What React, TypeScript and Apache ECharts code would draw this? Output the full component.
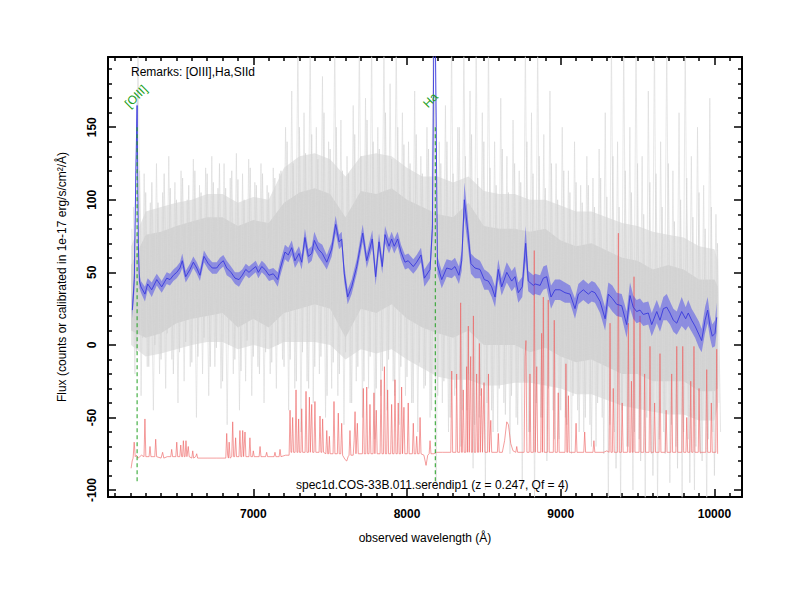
import React, { useEffect, useRef } from "react";
import * as echarts from "echarts";

const FONT = '"Liberation Sans", Arial, Helvetica, sans-serif';

const X_MIN = 6054.7;
const X_MAX = 10179.5;
const Y_MIN = -104.8;
const Y_MAX = 198.4;
const X_TICKS = [7000, 8000, 9000, 10000];
const Y_TICKS = [-100, -50, 0, 50, 100, 150];

// smoothed spectrum (blue) and its error
const BLUE_WAVE = [6213,6226,6236,6244,6252,6259,6269,6295,6313,6339,6372,6404,6437,6458,6480,6502,6523,6538,6560,6588,6610,6632,6653,6679,6707,6733,6762,6783,6805,6827,6855,6881,6907,6928,6951,6972,6993,7016,7033,7055,7076,7102,7130,7159,7174,7206,7228,7250,7271,7297,7315,7336,7358,7380,7397,7423,7449,7478,7510,7536,7558,7575,7592,7614,7640,7673,7712,7738,7774,7796,7818,7839,7857,7883,7900,7917,7939,7961,7987,8008,8041,8063,8091,8113,8150,8165,8174,8182,8190,8198,8226,8258,8291,8312,8338,8356,8373,8395,8416,8442,8475,8503,8529,8551,8573,8594,8616,8649,8681,8703,8724,8750,8772,8789,8822,8833,8866,8887,8909,8937,8963,8995,9028,9061,9093,9115,9147,9180,9202,9223,9256,9289,9310,9336,9364,9397,9429,9451,9472,9494,9516,9537,9570,9592,9625,9646,9668,9690,9711,9733,9755,9787,9813,9830,9852,9874,9900,9917,9939,9956,9971,9986,10004,10015];
const BLUE_FLUX = [24,45,120,165,70,44,40,35,42,38,45,40,46,45,48,50,53,58,47,52,57,53,48,61,56,53,53,56,58,53,50,46,45,48,52,50,52,54,50,54,52,48,49,45,52,64,62,67,58,63,57,74,61,63,72,66,63,57,66,83,71,73,49,33,40,54,77,58,73,47,71,54,76,68,73,68,73,64,57,58,54,57,62,46,52,80,200,240,150,55,45,53,52,54,48,58,100,79,56,53,52,45,44,40,33,52,40,50,44,47,36,40,70,44,41,42,41,46,47,33,38,38,36,35,25,35,38,35,37,36,30,18,35,32,28,27,14,34,26,23,24,21,22,14,23,17,25,26,22,17,15,23,18,22,17,13,7,3,17,24,13,6,8,19];
const BLUE_ERR = [6,8,10,12,8,5,4,5,4,5,4,4,4,4,4,4,4,5,4,4,4,4,4,4,4,4,4,4,4,5,4,4,5,4,4,4,4,4,4,4,4,4,4,5,5,5,5,5,5,5,5,6,5,5,6,5,6,5,5,6,5,5,6,5,5,5,6,5,6,6,6,5,6,5,5,5,5,5,5,5,5,5,5,6,6,8,10,12,10,6,6,6,6,6,6,7,12,10,7,7,6,7,6,7,7,7,6,7,7,7,7,7,12,7,7,7,7,8,8,8,7,7,7,6,7,7,7,7,7,7,8,8,8,9,8,8,9,9,8,8,8,8,8,8,8,8,8,9,8,8,8,10,8,9,8,8,9,8,9,9,8,8,9,10];

// raw spectrum (gray): dense inner and outer envelopes
const GRAY_CORE_WAVE = [6205,6300,6400,6500,6600,6700,6800,6900,7000,7100,7200,7300,7400,7500,7600,7700,7800,7900,8000,8100,8200,8300,8400,8500,8600,8700,8800,8900,9000,9100,9200,9300,9400,9500,9600,9700,9800,9900,10000,10022];
const GRAY_INNER_LO = [10,5,8,15,18,20,22,12,18,12,22,25,28,25,5,25,22,28,18,12,8,5,10,0,0,0,-5,-2,-8,-12,-10,-15,-20,-20,-25,-25,-25,-32,-32,-30];
const GRAY_INNER_HI = [55,76,78,82,85,88,88,82,86,84,98,105,108,104,88,106,104,108,100,95,90,88,98,82,80,80,78,80,72,68,70,65,60,58,52,55,52,45,45,40];
const GRAY_OUTER_LO = [0,-8,-6,-3,0,2,2,-3,0,-3,2,2,2,0,-10,-3,-6,-3,-10,-16,-22,-24,-24,-28,-28,-26,-26,-28,-30,-34,-34,-38,-42,-44,-46,-48,-48,-52,-52,-42];
const GRAY_OUTER_HI = [68,92,95,98,100,104,104,98,102,100,122,130,132,128,116,130,132,130,122,116,116,112,116,106,104,104,100,100,96,92,92,88,84,82,78,76,74,68,66,58];

// raw spectrum (gray): pixel excursions, 40 A sampling
const GRAY_START = 6210;
const GRAY_STEP = 40;
const GRAY_HI = [80,210,118,98,125,105,130,112,120,100,128,110,122,130,108,125,115,132,118,128,112,125,110,122,118,150,175,210,160,210,150,185,140,210,155,130,165,210,170,210,150,210,180,210,160,140,175,130,150,210,140,165,210,150,210,175,210,160,210,140,170,130,155,120,210,160,210,145,175,125,150,120,140,110,130,115,135,160,210,140,210,150,210,130,175,210,140,210,120,160,210,130,150,110,170,90];
const GRAY_LO = [-20,-35,-15,-45,-20,-30,-10,-40,-25,-15,-50,-20,-35,-15,-30,-55,-20,-45,-25,-35,-15,-40,-20,-30,-10,-45,-30,-60,-25,-40,-20,-50,-30,-35,-55,-40,-25,-50,-30,-65,-35,-45,-25,-55,-35,-40,-60,-30,-50,-95,-40,-60,-35,-70,-45,-85,-50,-100,-45,-60,-40,-75,-50,-95,-60,-110,-50,-80,-45,-65,-50,-75,-45,-60,-55,-70,-50,-110,-60,-110,-70,-100,-65,-110,-75,-110,-60,-95,-70,-110,-65,-100,-75,-110,-60,-40];
// second set of excursions, shifted by 10 A
const GRAY_MID_START = 6220;
const GRAY_MID_HI = [95,120,105,112,98,118,108,100,115,110,120,105,118,112,125,108,120,114,100,122,110,118,105,115,120,140,125,150,132,145,128,160,135,150,120,118,145,130,155,140,135,160,128,150,138,125,145,118,135,170,125,140,118,150,130,145,115,140,122,110,135,105,125,112,140,118,130,108,125,100,120,105,112,98,110,95,115,102,130,95,120,105,125,90,112,118,95,125,85,100,115,88,105,80,95,70];
const GRAY_MID_LO = [-5,5,-15,0,-10,8,-20,-5,2,-12,-8,5,-15,-2,-25,0,-10,-18,3,-8,-20,-5,-12,0,-15,-10,-25,-5,-30,-15,-8,-35,-12,-20,-5,-40,-15,-25,-8,-30,-18,-10,-35,-15,-22,-40,-12,-28,-45,-35,-25,-50,-30,-45,-20,-55,-35,-40,-60,-30,-48,-35,-55,-25,-60,-40,-50,-30,-65,-45,-55,-35,-60,-50,-70,-40,-75,-55,-85,-45,-70,-60,-80,-50,-90,-65,-75,-55,-85,-60,-95,-70,-80,-65,-90,-60];

// sky / noise spectrum (red)
const RED_WAVE = [6205,6212,6218,6225,6232,6240,6250,6262,6272,6289,6295,6301,6322,6328,6334,6359,6365,6371,6400,6410,6418,6440,6463,6469,6475,6496,6502,6508,6522,6528,6534,6540,6545,6551,6556,6562,6568,6572,6577,6583,6600,6606,6612,6625,6632,6638,6700,6760,6821,6827,6833,6838,6843,6849,6860,6866,6872,6879,6885,6891,6907,6913,6919,6925,6931,6937,6941,6946,6952,6972,6978,6984,6995,7000,7006,7038,7044,7050,7080,7087,7093,7135,7141,7147,7168,7174,7180,7210,7233,7239,7245,7250,7256,7262,7272,7278,7284,7290,7295,7300,7310,7315,7321,7337,7343,7349,7359,7365,7371,7375,7380,7386,7395,7401,7407,7428,7434,7440,7446,7451,7457,7472,7478,7484,7490,7495,7500,7519,7525,7531,7547,7553,7559,7569,7575,7581,7597,7608,7617,7623,7629,7635,7650,7656,7662,7668,7672,7677,7683,7710,7716,7722,7732,7738,7744,7753,7759,7765,7779,7785,7791,7795,7800,7806,7825,7831,7837,7847,7853,7859,7868,7874,7880,7894,7900,7906,7916,7922,7928,7937,7943,7949,7959,7965,7971,7975,7980,7986,8002,8008,8014,8035,8041,8047,8057,8063,8069,8079,8085,8091,8110,8124,8135,8144,8150,8156,8175,8190,8230,8260,8285,8291,8297,8318,8323,8329,8343,8349,8355,8360,8366,8372,8382,8388,8393,8395,8399,8405,8409,8414,8419,8426,8432,8438,8447,8453,8459,8465,8471,8477,8480,8485,8491,8495,8501,8507,8524,8530,8536,8540,8545,8551,8588,8594,8600,8620,8635,8649,8660,8675,8690,8708,8714,8720,8762,8768,8774,8780,8795,8800,8806,8822,8828,8834,8838,8844,8850,8870,8876,8881,8884,8887,8893,8913,8919,8925,8952,8958,8964,8978,8984,8990,9028,9034,9040,9045,9050,9056,9094,9100,9106,9150,9156,9162,9210,9216,9222,9280,9300,9315,9321,9327,9336,9342,9348,9369,9375,9381,9395,9400,9406,9434,9440,9446,9455,9460,9466,9471,9477,9483,9510,9516,9522,9540,9546,9552,9575,9581,9587,9605,9611,9617,9640,9646,9652,9680,9686,9692,9716,9722,9728,9749,9755,9761,9788,9794,9800,9815,9820,9826,9840,9846,9852,9861,9867,9873,9895,9900,9906,9944,9950,9956,9975,9980,9986,10009,10015,10021];
const RED_FLUX = [-85,-80,-78,-67,-77,-76,-78,-77,-76,-77,-51,-77,-77,-70,-77,-77,-65,-77,-78,-74,-78,-77,-77,-72,-77,-77,-67,-77,-77,-69,-77,-77,-66,-77,-77,-66,-77,-77,-70,-77,-78,-73,-78,-77,-75,-78,-78,-78,-78,-61,-76,-78,-67,-78,-77,-53,-77,-77,-64,-77,-77,-59,-77,-77,-59,-77,-77,-60,-77,-77,-64,-77,-77,-73,-77,-77,-70,-77,-77,-74,-77,-77,-74,-77,-77,-72,-77,-76,-76,-45,-74,-74,-50,-74,-74,-31,-74,-74,-51,-74,-74,-44,-74,-74,-32,-74,-74,-36,-74,-74,-41,-74,-74,-39,-74,-74,-49,-74,-74,-51,-74,-75,-59,-75,-75,-63,-75,-75,-39,-75,-75,-47,-75,-75,-54,-76,-79,-80,-77,-76,-59,-76,-76,-66,-46,-75,-75,-54,-75,-75,-30,-75,-75,-29,-75,-75,-41,-75,-75,-33,-75,-75,-45,-75,-75,-24,-75,-75,-15,-75,-75,-31,-75,-75,-41,-75,-75,-24,-75,-75,-40,-75,-75,-29,-75,-75,-43,-75,-75,-40,-75,-75,-54,-75,-75,-63,-75,-75,-50,-75,-76,-83,-76,-75,-66,-75,-75,-74,-74,-74,-74,-18,-74,-74,-20,-74,-74,29,-74,-74,-31,-74,-74,-15,-74,-74,13,-74,-74,-8,-74,-74,20,-74,-74,-20,-74,-74,1,-74,-74,-30,-74,-74,-26,-74,-74,-20,-74,-74,-52,-74,-74,-61,-74,-74,-66,-53,-55,-68,-73,-74,-70,-74,-74,-8,3,-74,-74,-20,-74,-74,65,-74,-74,-15,-74,-74,8,-74,-74,33,-74,-74,31,-74,-74,17,-74,-74,-33,-74,-74,-13,-74,-74,-35,-74,-74,-54,-74,-74,-60,-74,-74,-66,-74,-74,-73,-74,15,-74,-74,-30,-74,-74,77,-74,-74,-40,-74,-74,15,-74,-74,-25,-74,-74,47,-74,-74,20,-74,-74,-20,-74,-74,-1,-74,-74,-40,-74,-74,-6,-74,-74,-45,-74,-74,-20,-74,-74,-1,-74,-74,-1,-74,-74,-50,-74,-74,-25,-74,-74,-1,-74,-74,-30,-74,-74,-17,-74,-74,-40,-74,-74,-3,-75];

// identified lines
const LINE_WAVE = [6244, 8184];
const LINE_NAME = ["[OIII]", "Ha"];
const LINE_TOP = 150;
const LINE_BOTTOM = -95;
const LINE_LABEL_Y = 162;

const REMARKS = "Remarks: [OIII],Ha,SIId";
const SPEC_TITLE = "spec1d.COS-33B.011.serendip1 (z = 0.247, Qf = 4)";

const GREEN = "#22a022";

function minorTicks(from: number, to: number, step: number, majors: number[]) {
  const out: number[] = [];
  for (let v = from; v <= to + 1e-9; v += step) {
    const r = Math.round(v * 1000) / 1000;
    if (!majors.includes(r)) out.push(r);
  }
  return out;
}

const X_MINOR = minorTicks(6100, 10100, 100, X_TICKS);
const Y_MINOR = minorTicks(-100, 190, 10, Y_TICKS);

function bandSeries(wave: number[], lo: number[], hi: number[], fill: string, z: number) {
  return {
    type: "custom",
    clip: true,
    z,
    silent: true,
    data: [[wave[0], lo[0]]],
    encode: { x: 0, y: 1 },
    renderItem: (_params: any, api: any) => {
      const pts: number[][] = [];
      for (let i = 0; i < wave.length; i++) pts.push(api.coord([wave[i], lo[i]]));
      for (let i = wave.length - 1; i >= 0; i--) pts.push(api.coord([wave[i], hi[i]]));
      return { type: "polygon", shape: { points: pts }, style: { fill, stroke: "none" } };
    },
  };
}

function zigzag(start: number, step: number, hi: number[], lo: number[]) {
  const out: number[][] = [];
  for (let i = 0; i < hi.length; i++) {
    const w = start + i * step;
    out.push([w, hi[i]]);
    out.push([w + step / 2, lo[i]]);
  }
  return out;
}

function xAxisDef(position: "top" | "bottom", ticks: number[], len: number, main: boolean, withLabel: boolean) {
  return {
    type: "value",
    position,
    min: X_MIN,
    max: X_MAX,
    axisLine: { show: main, onZero: false, lineStyle: { color: "#000", width: 2 } },
    axisTick: { show: true, inside: true, length: len, customValues: ticks, lineStyle: { color: "#000", width: 1.5 } },
    axisLabel: withLabel
      ? {
          show: true,
          customValues: ticks,
          formatter: (v: number) => String(v),
          color: "#000",
          fontWeight: "bold",
          fontSize: 12,
          fontFamily: FONT,
          margin: 11,
        }
      : { show: false },
    splitLine: { show: false },
    ...(withLabel
      ? {
          name: "observed wavelength (Å)",
          nameLocation: "middle",
          nameGap: 35,
          nameTextStyle: { color: "#000", fontSize: 12, fontFamily: FONT },
        }
      : {}),
  };
}

function yAxisDef(position: "left" | "right", ticks: number[], len: number, main: boolean, withLabel: boolean) {
  return {
    type: "value",
    position,
    min: Y_MIN,
    max: Y_MAX,
    axisLine: { show: main, onZero: false, lineStyle: { color: "#000", width: 2 } },
    axisTick: { show: true, inside: true, length: len, customValues: ticks, lineStyle: { color: "#000", width: 1.5 } },
    axisLabel: withLabel
      ? {
          show: true,
          customValues: ticks,
          formatter: (v: number) => String(v),
          rotate: 90,
          color: "#000",
          fontWeight: "bold",
          fontSize: 12,
          fontFamily: FONT,
          margin: 10,
        }
      : { show: false },
    splitLine: { show: false },
    ...(withLabel
      ? {
          name: "Flux (counts or calibrated in 1e-17 erg/s/cm²/Å)",
          nameLocation: "middle",
          nameGap: 40,
          nameTextStyle: { color: "#000", fontSize: 12, fontFamily: FONT },
        }
      : {}),
  };
}

export default function App() {
  const ref = useRef<HTMLDivElement>(null);

  useEffect(() => {
    if (!ref.current) return;
    const chart = echarts.init(ref.current, null, { renderer: "svg" });

    const grayZig = zigzag(GRAY_START, GRAY_STEP, GRAY_HI, GRAY_LO);
    const grayMid = zigzag(GRAY_MID_START, GRAY_STEP, GRAY_MID_HI, GRAY_MID_LO);
    const blueLo = BLUE_FLUX.map((v, i) => v - BLUE_ERR[i]);
    const blueHi = BLUE_FLUX.map((v, i) => v + BLUE_ERR[i]);
    const blueLine = BLUE_WAVE.map((w, i) => [w, BLUE_FLUX[i]]);
    const redLine = RED_WAVE.map((w, i) => [w, RED_FLUX[i]]);

    const lineMarks = LINE_WAVE.map((w) => ({
      type: "line",
      z: 6,
      silent: true,
      symbol: "none",
      data: [
        [w, LINE_TOP],
        [w, LINE_BOTTOM],
      ],
      lineStyle: { color: GREEN, type: [4, 3], width: 1 },
    }));

    const option: any = {
      animation: false,
      backgroundColor: "#fff",
      grid: { left: 108, right: 58, top: 57, bottom: 103, containLabel: false },
      xAxis: [
        xAxisDef("bottom", X_TICKS, 8, true, true),
        xAxisDef("bottom", X_MINOR, 4, false, false),
        xAxisDef("top", X_TICKS, 8, true, false),
        xAxisDef("top", X_MINOR, 4, false, false),
      ],
      yAxis: [
        yAxisDef("left", Y_TICKS, 8, true, true),
        yAxisDef("left", Y_MINOR, 4, false, false),
        yAxisDef("right", Y_TICKS, 8, true, false),
        yAxisDef("right", Y_MINOR, 4, false, false),
      ],
      series: [
        bandSeries(GRAY_CORE_WAVE, GRAY_OUTER_LO, GRAY_OUTER_HI, "#e6e6e6", 1),
        bandSeries(GRAY_CORE_WAVE, GRAY_INNER_LO, GRAY_INNER_HI, "#d3d3d3", 1),
        {
          type: "line",
          z: 2,
          data: grayZig,
          symbol: "none",
          silent: true,
          lineStyle: { color: "#d9d9d9", width: 0.6 },
        },
        {
          type: "line",
          z: 2,
          data: grayMid,
          symbol: "none",
          silent: true,
          lineStyle: { color: "#d3d3d3", width: 0.6 },
        },
        {
          type: "line",
          z: 3,
          data: redLine,
          symbol: "none",
          silent: true,
          lineStyle: { color: "rgba(238,100,100,0.8)", width: 0.8 },
        },
        bandSeries(BLUE_WAVE, blueLo, blueHi, "rgba(70,70,235,0.5)", 4),
        {
          type: "line",
          z: 5,
          data: blueLine,
          symbol: "none",
          silent: true,
          lineStyle: { color: "#3a3adc", width: 0.9 },
        },
        ...lineMarks,
      ],
    };
    chart.setOption(option);

    const labelEls = LINE_WAVE.map((w, i) => {
      const p = chart.convertToPixel({ gridIndex: 0 }, [w, LINE_LABEL_Y]) as number[];
      return {
        type: "text",
        x: p[0] - 6,
        y: p[1],
        rotation: Math.PI / 4,
        z: 10,
        style: {
          text: LINE_NAME[i],
          fill: GREEN,
          font: `12px ${FONT}`,
          align: "left",
          verticalAlign: "bottom",
        },
      };
    });

    chart.setOption({
      graphic: {
        elements: [
          {
            type: "text",
            left: 131,
            top: 66,
            z: 10,
            style: { text: REMARKS, fill: "#000", font: `12px ${FONT}` },
          },
          {
            type: "text",
            left: 296,
            top: 479,
            z: 10,
            style: { text: SPEC_TITLE, fill: "#000", font: `12px ${FONT}` },
          },
          ...labelEls,
        ],
      },
    });

    return () => chart.dispose();
  }, []);

  return (
    <div
      ref={ref}
      style={{ position: "fixed", left: 0, top: 0, width: 800, height: 600, background: "#fff" }}
    />
  );
}
